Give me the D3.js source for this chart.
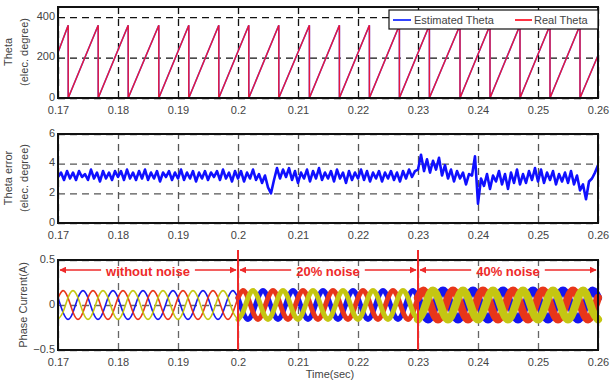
<!DOCTYPE html>
<html lang="en">
<head>
<meta charset="utf-8">
<title>Theta estimation</title>
<style>
    body { margin: 0; background: #fff; }
    svg text { font-family: Arial, 'Liberation Sans', sans-serif; }
</style>
</head>
<body>
<div id="chart"></div>
<script src="https://d3js.org/d3.v7.min.js"></script>
<script>
// ---- data ----
var xTicks = [0.17, 0.18, 0.19, 0.2, 0.21, 0.22, 0.23, 0.24, 0.25, 0.26];

// theta (elec. degree): sawtooth 0..360, times where it wraps back to 0
var thetaTicks = [0, 200, 400];
var thetaStart = 225;
var thetaEnd = 210;
var thetaWrapTimes = [0.1717, 0.1767, 0.1817, 0.1868, 0.1918, 0.1968, 0.2018, 0.2068, 0.2119,
                      0.2169, 0.2219, 0.2269, 0.2319, 0.2370, 0.2420, 0.2470, 0.2520, 0.2570];

// theta error, one sample every 0.5 ms from 0.17 s
var errTicks = [0, 2, 4, 6];
var errT0 = 0.17, errDt = 0.0005;
var thetaError = [
    3.1,3.4,2.9,3.5,3.0,3.4,2.9,3.5,3.1,3.3,
    2.9,3.6,3.0,3.4,2.8,3.5,3.0,3.4,2.9,3.5,
    3.1,3.5,2.9,3.6,3.0,3.4,2.9,3.5,3.0,3.6,
    2.9,3.4,3.0,3.5,2.8,3.4,3.1,3.5,2.9,3.4,
    3.0,3.6,2.9,3.4,3.0,3.5,2.8,3.4,3.0,3.5,
    2.9,3.4,3.1,3.5,2.9,3.6,3.0,3.4,2.8,3.5,
    3.0,3.5,2.8,3.4,3.0,3.6,2.9,3.3,2.7,3.2,
    2.4,2.0,2.9,3.7,3.0,3.6,3.1,3.7,2.9,3.5,
    2.7,3.4,3.0,3.6,2.8,3.5,3.0,3.7,2.9,3.4,
    3.0,3.5,2.8,3.6,3.0,3.4,2.7,3.5,2.9,3.4,
    3.0,3.6,2.9,3.5,2.8,3.4,3.0,3.5,2.8,3.4,
    3.0,3.5,2.9,3.4,2.8,3.5,3.0,3.6,3.1,3.5,
    3.6,4.6,3.5,4.3,3.4,4.2,3.6,4.4,3.2,3.9,
    3.0,3.6,2.8,3.5,3.0,3.4,2.6,3.3,3.2,4.5,
    1.3,3.0,2.5,3.3,2.3,3.2,2.8,3.5,2.6,3.3,
    2.3,3.4,2.7,3.6,2.6,3.3,2.7,3.5,2.9,3.7,
    2.8,3.6,2.7,3.4,2.9,3.5,2.6,3.3,2.8,3.4,
    2.7,3.5,2.6,3.2,2.2,2.6,1.6,2.8,3.0,3.4,3.9
];

// phase currents (A), one sample every 1/6 electrical period from 0.17 s
var curTicks = [-0.5, 0, 0.5];
var curT0 = 0.17, curDt = 0.005 / 6;
var phaseBlue = [
    0.08,-0.08,-0.16,-0.08,0.08,0.16, 0.08,-0.08,-0.16,-0.08,0.08,0.16,
    0.08,-0.08,-0.16,-0.08,0.08,0.16, 0.08,-0.08,-0.16,-0.08,0.08,0.16,
    0.08,-0.08,-0.16,-0.08,0.08,0.16, 0.08,-0.08,-0.16,-0.08,0.08,0.16,
    0.08,-0.08,-0.16,-0.08,0.08,0.16, 0.08,-0.08,-0.16,-0.08,0.08,0.16,
    0.08,-0.08,-0.16,-0.08,0.08,0.16, 0.08,-0.08,-0.16,-0.08,0.08,0.16,
    0.08,-0.08,-0.16,-0.08,0.08,0.16, 0.08,-0.08,-0.16,-0.08,0.08,0.16,
    0.08,-0.08,-0.16,-0.08,0.08,0.16, 0.08,-0.08,-0.16,-0.08,0.08,0.16,
    0.08,-0.08,-0.16,-0.08,0.08,0.16, 0.08,-0.08,-0.16,-0.08,0.08,0.16,
    0.08,-0.08,-0.16,-0.08,0.08,0.16, 0.08,-0.08,-0.16,-0.08,0.08,0.16,
    0.08
];
var phaseRed = [
    0.08,0.16,0.08,-0.08,-0.16,-0.08, 0.08,0.16,0.08,-0.08,-0.16,-0.08,
    0.08,0.16,0.08,-0.08,-0.16,-0.08, 0.08,0.16,0.08,-0.08,-0.16,-0.08,
    0.08,0.16,0.08,-0.08,-0.16,-0.08, 0.08,0.16,0.08,-0.08,-0.16,-0.08,
    0.08,0.16,0.08,-0.08,-0.16,-0.08, 0.08,0.16,0.08,-0.08,-0.16,-0.08,
    0.08,0.16,0.08,-0.08,-0.16,-0.08, 0.08,0.16,0.08,-0.08,-0.16,-0.08,
    0.08,0.16,0.08,-0.08,-0.16,-0.08, 0.08,0.16,0.08,-0.08,-0.16,-0.08,
    0.08,0.16,0.08,-0.08,-0.16,-0.08, 0.08,0.16,0.08,-0.08,-0.16,-0.08,
    0.08,0.16,0.08,-0.08,-0.16,-0.08, 0.08,0.16,0.08,-0.08,-0.16,-0.08,
    0.08,0.16,0.08,-0.08,-0.16,-0.08, 0.08,0.16,0.08,-0.08,-0.16,-0.08,
    0.08
];
var phaseYellow = [
    -0.16,-0.08,0.08,0.16,0.08,-0.08, -0.16,-0.08,0.08,0.16,0.08,-0.08,
    -0.16,-0.08,0.08,0.16,0.08,-0.08, -0.16,-0.08,0.08,0.16,0.08,-0.08,
    -0.16,-0.08,0.08,0.16,0.08,-0.08, -0.16,-0.08,0.08,0.16,0.08,-0.08,
    -0.16,-0.08,0.08,0.16,0.08,-0.08, -0.16,-0.08,0.08,0.16,0.08,-0.08,
    -0.16,-0.08,0.08,0.16,0.08,-0.08, -0.16,-0.08,0.08,0.16,0.08,-0.08,
    -0.16,-0.08,0.08,0.16,0.08,-0.08, -0.16,-0.08,0.08,0.16,0.08,-0.08,
    -0.16,-0.08,0.08,0.16,0.08,-0.08, -0.16,-0.08,0.08,0.16,0.08,-0.08,
    -0.16,-0.08,0.08,0.16,0.08,-0.08, -0.16,-0.08,0.08,0.16,0.08,-0.08,
    -0.16,-0.08,0.08,0.16,0.08,-0.08, -0.16,-0.08,0.08,0.16,0.08,-0.08,
    -0.16
];
// noise regions and their labels
var noiseLimits = [0.17, 0.2, 0.23, 0.26];
var noiseLabels = ["without noise", "20% noise", "40% noise"];

// ---- layout ----
var width = 615, height = 383;
var plotLeft = 58, plotRight = 598;

var svg = d3.select("#chart").append("svg")
    .attr("width", width)
    .attr("height", height);

var x = d3.scaleLinear().domain([0.17, 0.26]).range([plotLeft, plotRight]);

function makePanel(top, bottom, domain, yTicks, gridColor) {
    var y = d3.scaleLinear().domain(domain).range([bottom, top]);
    var g = svg.append("g");

    // dashed grid
    g.append("g")
        .attr("transform", "translate(0," + bottom + ")")
        .call(d3.axisBottom(x).tickValues(xTicks).tickSize(-(bottom - top)).tickFormat(""))
        .call(function(s) { s.select(".domain").remove(); })
        .selectAll("line")
        .attr("stroke", gridColor)
        .attr("stroke-width", 1.3)
        .attr("stroke-dasharray", "7,5");
    g.append("g")
        .attr("transform", "translate(" + plotLeft + ",0)")
        .call(d3.axisLeft(y).tickValues(yTicks).tickSize(-(plotRight - plotLeft)).tickFormat(""))
        .call(function(s) { s.select(".domain").remove(); })
        .selectAll("line")
        .attr("stroke", gridColor)
        .attr("stroke-width", 1.3)
        .attr("stroke-dasharray", "7,5");

    var marks = svg.append("g");

    // labels
    var ax = svg.append("g");
    ax.append("g")
        .attr("transform", "translate(0," + bottom + ")")
        .call(d3.axisBottom(x).tickValues(xTicks).tickSize(0).tickPadding(8).tickFormat(d3.format("~g")))
        .call(function(s) { s.select(".domain").remove(); })
        .selectAll("text")
        .attr("font-size", 11)
        .attr("fill", "#444");
    ax.append("g")
        .attr("transform", "translate(" + plotLeft + ",0)")
        .call(d3.axisLeft(y).tickValues(yTicks).tickSize(0).tickPadding(3).tickFormat(d3.format("~g")))
        .call(function(s) { s.select(".domain").remove(); })
        .selectAll("text")
        .attr("font-size", 11)
        .attr("dy", "0.2em")
        .attr("fill", "#444");

    // frame
    ax.append("rect")
        .attr("x", plotLeft)
        .attr("y", top)
        .attr("width", plotRight - plotLeft)
        .attr("height", bottom - top)
        .attr("fill", "none")
        .attr("stroke", "#111")
        .attr("stroke-width", 2);

    return { y: y, marks: marks, top: top, bottom: bottom, ax: ax };
}

function yTitle(lines, xs, cy) {
    lines.forEach(function(t, i) {
        svg.append("text")
            .attr("transform", "translate(" + xs[i] + "," + cy + ") rotate(-90)")
            .attr("text-anchor", "middle")
            .attr("font-size", 11)
            .attr("fill", "#444")
            .text(t);
    });
}

// ---- panel 1: theta ----
var p1 = makePanel(7, 98, [0, 450], thetaTicks, "#111");

var thetaPts = [[0.17, thetaStart]];
thetaWrapTimes.forEach(function(t) {
    thetaPts.push([t, 360]);
    thetaPts.push([t, 0]);
});
thetaPts.push([0.26, thetaEnd]);

var thetaLine = d3.line()
    .x(function(d) { return x(d[0]); })
    .y(function(d) { return p1.y(d[1]); });

p1.marks.append("path")
    .datum(thetaPts)
    .attr("d", thetaLine)
    .attr("fill", "none")
    .attr("stroke", "#5560ff")
    .attr("stroke-width", 1.6);
p1.marks.append("path")
    .datum(thetaPts)
    .attr("d", thetaLine)
    .attr("fill", "none")
    .attr("stroke", "#e8163a")
    .attr("stroke-width", 1.4);

// legend
var lg = p1.ax.append("g");
lg.append("rect")
    .attr("x", 389).attr("y", 10)
    .attr("width", 209).attr("height", 19)
    .attr("fill", "#fff")
    .attr("stroke", "#111")
    .attr("stroke-width", 1.2);
lg.append("line")
    .attr("x1", 393).attr("x2", 411).attr("y1", 20).attr("y2", 20)
    .attr("stroke", "#3344ff").attr("stroke-width", 2);
lg.append("text")
    .attr("x", 414).attr("y", 24)
    .attr("font-size", 11).attr("fill", "#444")
    .text("Estimated Theta");
lg.append("line")
    .attr("x1", 515).attr("x2", 532).attr("y1", 20).attr("y2", 20)
    .attr("stroke", "#ff3344").attr("stroke-width", 2);
lg.append("text")
    .attr("x", 534).attr("y", 24)
    .attr("font-size", 11).attr("fill", "#444")
    .text("Real Theta");

yTitle(["Theta", "(elec. degree)"], [12, 28], 52);

// ---- panel 2: theta error ----
var p2 = makePanel(134, 223, [0, 6], errTicks, "#555");

p2.marks.append("path")
    .datum(thetaError)
    .attr("d", d3.line()
        .x(function(d, i) { return x(errT0 + i * errDt); })
        .y(function(d) { return p2.y(d); }))
    .attr("fill", "none")
    .attr("stroke", "#1010ff")
    .attr("stroke-width", 2.6)
    .attr("stroke-linejoin", "round");

yTitle(["Theta error", "(elec. degree)"], [12, 28], 178);

// ---- panel 3: phase currents ----
var p3 = makePanel(260, 350, [-0.5, 0.5], curTicks, "#666");

var curLine = d3.line()
    .x(function(d) { return x(d.t); })
    .y(function(d) { return p3.y(d.v); })
    .curve(d3.curveNatural);

var phases = [
    { v: phaseBlue, color: "#1515f0" },
    { v: phaseRed, color: "#e8361a" },
    { v: phaseYellow, color: "#c4c612" }
];
var segWidth = [1.6, 5, 8];

phases.forEach(function(ph) {
    var pts = ph.v.map(function(v, i) { return { t: curT0 + i * curDt, v: v }; });
    for (var s = 0; s < 3; s++) {
        var seg = pts.filter(function(d) {
            return d.t >= noiseLimits[s] - 1e-9 && d.t <= noiseLimits[s + 1] + 1e-9;
        });
        p3.marks.append("path")
            .datum(seg)
            .attr("d", curLine)
            .attr("fill", "none")
            .attr("stroke", ph.color)
            .attr("stroke-width", segWidth[s])
            .attr("stroke-linecap", "round");
    }
});

// red separators and arrows
var red = "#ee2a2a";
var defs = svg.append("defs");
defs.append("marker")
    .attr("id", "arr")
    .attr("viewBox", "0 0 10 10")
    .attr("refX", 9).attr("refY", 5)
    .attr("markerWidth", 7).attr("markerHeight", 7)
    .attr("markerUnits", "userSpaceOnUse")
    .attr("orient", "auto")
    .append("path")
    .attr("d", "M0,0 L10,5 L0,10 z")
    .attr("fill", red);

[0.2, 0.23].forEach(function(t) {
    svg.append("line")
        .attr("x1", x(t)).attr("x2", x(t))
        .attr("y1", 250).attr("y2", 350)
        .attr("stroke", red)
        .attr("stroke-width", 2);
});

noiseLabels.forEach(function(lbl, i) {
    var x0 = x(noiseLimits[i]) + 2, x1 = x(noiseLimits[i + 1]) - 2;
    var cx = (x0 + x1) / 2;
    var txt = svg.append("text")
        .attr("x", cx).attr("y", 276)
        .attr("text-anchor", "middle")
        .attr("font-size", 13)
        .attr("font-weight", "bold")
        .attr("fill", red)
        .text(lbl);
    var w = txt.node().getComputedTextLength();
    svg.append("line")
        .attr("x1", cx - w / 2 - 5).attr("x2", x0)
        .attr("y1", 270).attr("y2", 270)
        .attr("stroke", red).attr("stroke-width", 1.5)
        .attr("marker-end", "url(#arr)");
    svg.append("line")
        .attr("x1", cx + w / 2 + 5).attr("x2", x1)
        .attr("y1", 270).attr("y2", 270)
        .attr("stroke", red).attr("stroke-width", 1.5)
        .attr("marker-end", "url(#arr)");
});

yTitle(["Phase Current(A)"], [27], 305);

svg.append("text")
    .attr("x", 330).attr("y", 378)
    .attr("text-anchor", "middle")
    .attr("font-size", 11)
    .attr("fill", "#444")
    .text("Time(sec)");
</script>
</body>
</html>
